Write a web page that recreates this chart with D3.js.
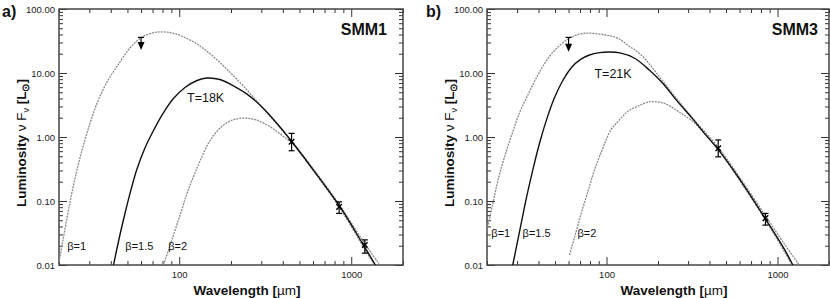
<!DOCTYPE html>
<meta charset="utf-8">
<style type="text/css">
  body { margin: 0; background: #fff; }
  svg { display: block; font-family: "Liberation Sans", Arial, Helvetica, sans-serif; }
  .axis path { display: none; }
  .axis line { stroke: #333; stroke-width: 1; }
  .axis text { font-size: 9.5px; fill: #222; font-family: "Liberation Sans", Arial, sans-serif; }
  .frame { fill: none; stroke: #444; stroke-width: 1.5; }
  .model-dot { fill: none; stroke: #8a8a8a; stroke-width: 1.3; stroke-dasharray: 2,1; }
  .model-solid { fill: none; stroke: #111; stroke-width: 1.4; }
  .ebar { stroke: #000; stroke-width: 1.2; fill: none; }
  .note { font-size: 11px; fill: #111; }
  .title { font-size: 16px; font-weight: bold; fill: #111; }
  .panel { font-size: 16px; font-weight: bold; fill: #111; }
  .alabel { font-size: 13.5px; font-weight: bold; fill: #111; }
</style>
<body></body>
<script src="https://cdn.jsdelivr.net/npm/d3@7"></script>
<script>

// axis ticks
var xDomain = [20, 2000];
var yDomain = [0.01, 100];
var xMajor = [100, 1000];
var yMajor = [0.01, 0.1, 1, 10, 100];
var yMajorLabels = ["0.01", "0.10", "1.00", "10.00", "100.00"];

// SMM1 — [wavelength um, luminosity Lsun]
var smm1Beta1 = [[20,0.0111],[22,0.0456],[24.1,0.161],[26.5,0.475],[29.5,1.3],[33.3,3.4],[38,7.2],[44,13.3],[51.7,24.6],[60,35.5],[69.5,42.2],[80.6,43.8],[95,41],[124,29.5],[160,17.5],[203,9.5],[250,5.3],[300,3.0],[450,0.86],[600,0.32],[860,0.085],[1180,0.023],[1450,0.0105]];
var smm1Beta15 = [[41.5,0.01],[44.7,0.0257],[48.4,0.0643],[52.4,0.149],[56.8,0.316],[63.2,0.673],[70.4,1.22],[80.5,2.33],[92,3.92],[108,5.93],[126.9,7.63],[145,8.35],[172.6,7.92],[202.7,6.49],[250,4.6],[309,2.8],[380,1.5],[451,0.85],[600,0.31],[862,0.081],[1177,0.0205],[1383,0.01]];
var smm1Beta2 = [[81,0.01],[86,0.016],[90.7,0.025],[100,0.055],[113,0.15],[130,0.38],[148,0.8],[169,1.3],[190,1.68],[212,1.9],[242,1.97],[280,1.85],[330,1.5],[380,1.15],[422,0.93],[451,0.82],[600,0.3],[860,0.077],[1180,0.019],[1350,0.0105]];
var smm1Points = [{w:450, l:0.845, lo:0.61, hi:1.14}, {w:850, l:0.081, lo:0.064, hi:0.097}, {w:1200, l:0.0205, lo:0.0153, hi:0.0247}];
var smm1Limit = {w:60, l:36, tip:22.8};

// SMM3
var smm3Beta1 = [[20,0.035],[21.5,0.085],[23.2,0.21],[25.5,0.52],[28.3,1.2],[31,2.4],[34.6,4.5],[38.5,8.0],[43.4,14],[50,23],[59.4,34],[66,39],[74.3,41.8],[85,41.5],[100,39],[116,35],[135,26.5],[160,19],[199,9.5],[240,5.0],[320,1.95],[448,0.7],[600,0.235],[860,0.056],[1100,0.021],[1340,0.01]];
var smm3Beta15 = [[28.3,0.01],[31,0.0334],[34,0.112],[37.4,0.339],[41.1,0.904],[45.2,2.08],[49.6,4.1],[55.3,7.5],[62.4,12.2],[70.5,16.3],[79.5,19.1],[91,20.8],[104.1,21.3],[120,20.6],[146,17],[178,11.1],[213,6.9],[260,3.6],[320,1.9],[380,1.08],[448,0.645],[600,0.22],[860,0.05],[1100,0.0174],[1229,0.01]];
var smm3Beta2 = [[60.8,0.0144],[65,0.027],[71.1,0.064],[78,0.143],[85,0.305],[95,0.66],[106,1.29],[118,1.8],[133,2.5],[155,3.1],[178,3.55],[191,3.57],[218,3.36],[260,2.56],[320,1.74],[380,1.1],[448,0.65],[600,0.21],[860,0.048],[1100,0.016],[1200,0.0105]];
var smm3Points = [{w:450, l:0.665, lo:0.49, hi:0.9}, {w:850, l:0.054, lo:0.042, hi:0.064}];
var smm3Limit = {w:60, l:36, tip:21.5};

var svg = d3.select("body").append("svg")
    .attr("width", 830)
    .attr("height", 298);

function drawPanel(cfg) {
  var g = svg.append("g");

  var x = d3.scaleLog().domain(xDomain).range([cfg.left, cfg.right]);
  var y = d3.scaleLog().domain(yDomain).range([cfg.bottom, cfg.top]);

  var xMinor = x.ticks().filter(function(d) { return xMajor.indexOf(d) < 0; });
  var yMinor = y.ticks().filter(function(d) { return yMajor.indexOf(d) < 0; });

  // ticks point inward on all four sides (IDL style)
  g.append("g").attr("class", "axis")
    .attr("transform", "translate(" + cfg.left + ",0)")
    .call(d3.axisLeft(y).tickValues(yMajor).tickSize(-8).tickPadding(4)
      .tickFormat(function(d, i) { return yMajorLabels[i]; }));
  g.append("g").attr("class", "axis")
    .attr("transform", "translate(" + cfg.left + ",0)")
    .call(d3.axisLeft(y).tickValues(yMinor).tickSize(-4).tickFormat(""));
  g.append("g").attr("class", "axis")
    .attr("transform", "translate(" + cfg.right + ",0)")
    .call(d3.axisRight(y).tickValues(yMajor).tickSize(-8).tickFormat(""));
  g.append("g").attr("class", "axis")
    .attr("transform", "translate(" + cfg.right + ",0)")
    .call(d3.axisRight(y).tickValues(yMinor).tickSize(-4).tickFormat(""));

  g.append("g").attr("class", "axis")
    .attr("transform", "translate(0," + cfg.bottom + ")")
    .call(d3.axisBottom(x).tickValues(xMajor).tickSize(-8).tickPadding(6)
      .tickFormat(d3.format("d")));
  g.append("g").attr("class", "axis")
    .attr("transform", "translate(0," + cfg.bottom + ")")
    .call(d3.axisBottom(x).tickValues(xMinor).tickSize(-4).tickFormat(""));
  g.append("g").attr("class", "axis")
    .attr("transform", "translate(0," + cfg.top + ")")
    .call(d3.axisTop(x).tickValues(xMajor).tickSize(-8).tickFormat(""));
  g.append("g").attr("class", "axis")
    .attr("transform", "translate(0," + cfg.top + ")")
    .call(d3.axisTop(x).tickValues(xMinor).tickSize(-4).tickFormat(""));

  g.append("rect").attr("class", "frame")
    .attr("x", cfg.left).attr("y", cfg.top)
    .attr("width", cfg.right - cfg.left).attr("height", cfg.bottom - cfg.top);

  // model curves, clipped to the box
  g.append("clipPath").attr("id", cfg.id + "-clip")
    .append("rect")
    .attr("x", cfg.left).attr("y", cfg.top)
    .attr("width", cfg.right - cfg.left).attr("height", cfg.bottom - cfg.top);

  var line = d3.line()
    .x(function(d) { return x(d[0]); })
    .y(function(d) { return y(d[1]); })
    .curve(d3.curveCatmullRom.alpha(0.5));

  var curves = g.append("g").attr("clip-path", "url(#" + cfg.id + "-clip)");
  curves.append("path").attr("class", "model-dot").attr("d", line(cfg.beta1));
  curves.append("path").attr("class", "model-dot").attr("d", line(cfg.beta2));
  curves.append("path").attr("class", "model-solid").attr("d", line(cfg.beta15));

  // measured fluxes with error bars
  var pts = g.selectAll("g.pt").data(cfg.points).enter().append("g").attr("class", "pt");
  pts.append("line").attr("class", "ebar")
    .attr("x1", function(d) { return x(d.w); }).attr("x2", function(d) { return x(d.w); })
    .attr("y1", function(d) { return y(d.lo); }).attr("y2", function(d) { return y(d.hi); });
  pts.append("line").attr("class", "ebar")
    .attr("x1", function(d) { return x(d.w) - 3; }).attr("x2", function(d) { return x(d.w) + 3; })
    .attr("y1", function(d) { return y(d.lo); }).attr("y2", function(d) { return y(d.lo); });
  pts.append("line").attr("class", "ebar")
    .attr("x1", function(d) { return x(d.w) - 3; }).attr("x2", function(d) { return x(d.w) + 3; })
    .attr("y1", function(d) { return y(d.hi); }).attr("y2", function(d) { return y(d.hi); });
  pts.append("path")
    .attr("transform", function(d) { return "translate(" + x(d.w) + "," + y(d.l) + ")"; })
    .attr("d", d3.symbol().type(d3.symbolTimes).size(22))
    .attr("stroke", "#000").attr("stroke-width", 1.4).attr("fill", "none");

  // upper limit at 60 um
  var lim = cfg.limit;
  g.append("line").attr("class", "ebar")
    .attr("x1", x(lim.w) - 3).attr("x2", x(lim.w) + 3)
    .attr("y1", y(lim.l)).attr("y2", y(lim.l));
  g.append("line").attr("class", "ebar")
    .attr("x1", x(lim.w)).attr("x2", x(lim.w))
    .attr("y1", y(lim.l)).attr("y2", y(lim.tip) - 6);
  g.append("path")
    .attr("d", "M" + (x(lim.w) - 3.5) + "," + (y(lim.tip) - 8) +
               "L" + (x(lim.w) + 3.5) + "," + (y(lim.tip) - 8) +
               "L" + x(lim.w) + "," + y(lim.tip) + "Z")
    .attr("fill", "#000");

  // annotations
  cfg.betaNotes.forEach(function(n) {
    g.append("text").attr("class", "note")
      .attr("x", x(n.w)).attr("y", y(n.l)).text(n.t);
  });
  g.append("text").attr("class", "note").style("font-size", "12.5px")
    .attr("x", x(cfg.tNote.w)).attr("y", y(cfg.tNote.l)).text(cfg.tNote.t);

  g.append("text").attr("class", "title")
    .attr("text-anchor", "end")
    .attr("x", cfg.right - cfg.titleInset).attr("y", 35)
    .text(cfg.title);

  g.append("text").attr("class", "panel")
    .attr("x", cfg.panelX).attr("y", 17)
    .text(cfg.panel);

  var xl = g.append("text").attr("class", "alabel")
    .attr("text-anchor", "middle")
    .attr("x", (cfg.left + cfg.right) / 2 + 16).attr("y", 295);
  xl.append("tspan").text("Wavelength [");
  xl.append("tspan").style("font-weight", "normal").text("\u00b5m");
  xl.append("tspan").text("]");

  var yl = g.append("text").attr("class", "alabel")
    .attr("text-anchor", "middle")
    .attr("transform", "translate(" + (cfg.left - 33) + ",143) rotate(-90)");
  yl.append("tspan").text("Luminosity  ");
  yl.append("tspan").style("font-weight", "normal").text("\u03bd F");
  yl.append("tspan").style("font-size", "9px").style("font-weight", "normal").attr("dy", 3).text("\u03bd");
  yl.append("tspan").attr("dy", -3).text(" [L");
  yl.append("tspan").style("font-size", "10px").attr("dy", 3).text("\u2299");
  yl.append("tspan").attr("dy", -3).text("]");
}

drawPanel({
  id: "a", left: 59, right: 403, top: 9, bottom: 265,
  beta1: smm1Beta1, beta15: smm1Beta15, beta2: smm1Beta2,
  points: smm1Points, limit: smm1Limit,
  betaNotes: [{w:22.3, l:0.0171, t:"\u03b2=1"}, {w:48.6, l:0.0171, t:"\u03b2=1.5"}, {w:86.3, l:0.0171, t:"\u03b2=2"}],
  tNote: {w:111, l:3.5, t:"T=18K"},
  title: "SMM1", titleInset: 16, panel: "a)", panelX: 2
});

drawPanel({
  id: "b", left: 487, right: 829, top: 9, bottom: 265,
  beta1: smm3Beta1, beta15: smm3Beta15, beta2: smm3Beta2,
  points: smm3Points, limit: smm3Limit,
  betaNotes: [{w:21.2, l:0.0274, t:"\u03b2=1"}, {w:32.3, l:0.0274, t:"\u03b2=1.5"}, {w:67.7, l:0.0274, t:"\u03b2=2"}],
  tNote: {w:85, l:8.35, t:"T=21K"},
  title: "SMM3", titleInset: 11, panel: "b)", panelX: 426
});

</script>
